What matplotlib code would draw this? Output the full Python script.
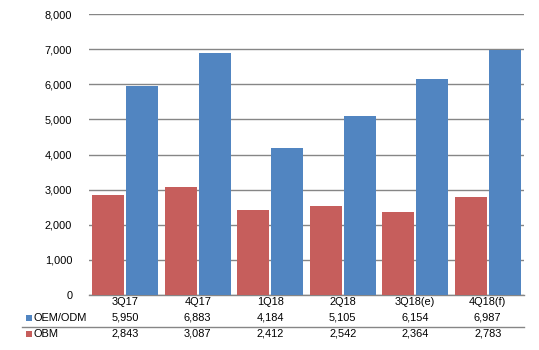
import numpy as np
import matplotlib
matplotlib.use("Agg")
import matplotlib.pyplot as plt
from matplotlib import transforms
from matplotlib.lines import Line2D
from matplotlib.patches import Rectangle

# ========================================
# DATA
# ========================================
quarters = ["3Q17", "4Q17", "1Q18", "2Q18", "3Q18(e)", "4Q18(f)"]
oem_odm = [5950, 6883, 4184, 5105, 6154, 6987]
obm = [2843, 3087, 2412, 2542, 2364, 2783]

BLUE = "#5185C1"
RED = "#C65E5C"
GRID = "#868686"

plt.rcParams["font.family"] = ["Liberation Sans", "DejaVu Sans"]
plt.rcParams["font.size"] = 7.9

W, H = 539, 350
fig = plt.figure(figsize=(W / 100, H / 100), dpi=100)

# plot area in pixel coordinates
left, right, top, bottom = 89, 524, 14, 295
ax = fig.add_axes([left / W, 1 - bottom / H, (right - left) / W, (bottom - top) / H])

x = np.arange(len(quarters))
bw = 0.44
off = 0.232

ax.bar(x - off, obm, width=bw, color=RED, zorder=3)
ax.bar(x + off, oem_odm, width=bw, color=BLUE, zorder=3)

ax.set_xlim(-0.5, len(quarters) - 0.5)
ax.set_ylim(0, 8000)
ax.set_yticks(range(0, 8001, 1000))
ax.set_yticklabels([f"{v:,}" for v in range(0, 8001, 1000)])
ax.set_xticks([])
ax.yaxis.grid(True, color=GRID, linewidth=1.0, zorder=0)
ax.tick_params(axis="y", length=0, pad=12, labelcolor="#000000")
for s in ["top", "right", "left"]:
    ax.spines[s].set_visible(False)
ax.spines["bottom"].set_color(GRID)
ax.spines["bottom"].set_linewidth(1.0)

# ========================================
# DATA TABLE BELOW THE AXIS
# ========================================
trans = transforms.blended_transform_factory(ax.transData, fig.transFigure)


def fy(py):
    return 1 - py / H


for i, q in enumerate(quarters):
    ax.text(i, fy(302), q, transform=trans, ha="center", va="center", clip_on=False)
    ax.text(i, fy(318), f"{oem_odm[i]:,}", transform=trans, ha="center", va="center", clip_on=False)
    ax.text(i, fy(334), f"{obm[i]:,}", transform=trans, ha="center", va="center", clip_on=False)

# row labels with legend keys
fig.add_artist(Rectangle((26 / W, fy(321)), 6 / W, 6 / H, transform=fig.transFigure,
                         facecolor=BLUE, edgecolor="none"))
fig.text(34 / W, fy(318), "OEM/ODM", ha="left", va="center")
fig.add_artist(Rectangle((26 / W, fy(337)), 6 / W, 6 / H, transform=fig.transFigure,
                         facecolor=RED, edgecolor="none"))
fig.text(34 / W, fy(334), "OBM", ha="left", va="center")

# separator line between the two rows
fig.add_artist(Line2D([22 / W, right / W], [fy(327), fy(327)], transform=fig.transFigure,
                      color=GRID, linewidth=1.0))

fig.savefig("out.png", dpi=100)
